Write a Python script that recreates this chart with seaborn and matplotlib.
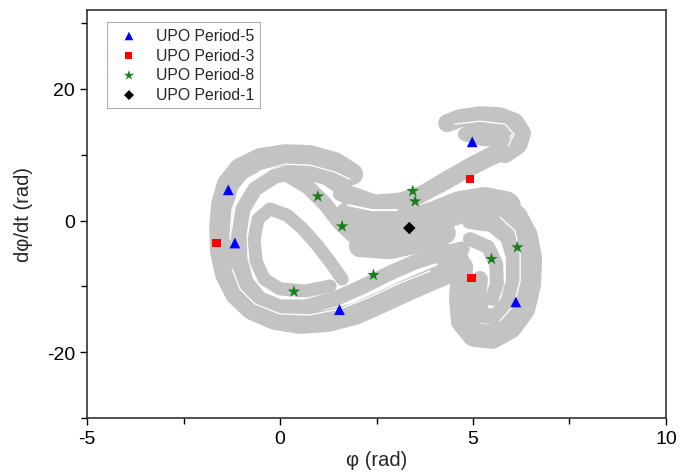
import numpy as np
import pandas as pd
import seaborn as sns
import matplotlib
matplotlib.use("Agg")
import matplotlib.pyplot as plt
from matplotlib.ticker import MultipleLocator

# ---------------- data ----------------
# Attractor strands (centre lines of the gray bands), in data units
band1_x = [1.87, 1.42, 0.78, 0.13, -0.52, -1.04, -1.35, -1.50, -1.55, -1.53, -1.40, -1.14, -0.73, -0.13, 0.52, 1.24, 1.94, 2.64, 3.37, 4.09, 4.72]
band1_y = [7.06, 8.73, 9.79, 9.94, 9.33, 7.81, 5.54, 2.50, -0.99, -4.63, -8.12, -11.15, -13.43, -14.95, -15.55, -15.25, -14.19, -12.37, -10.39, -8.57, -7.06]

band3_x = [4.72, 4.15, 3.50, 2.85, 2.12, 1.42, 0.65, 0.00, -0.52, -0.88, -1.04, -1.06, -0.96, -0.65, -0.13, 0.52, 1.17, 1.81, 2.46, 3.11, 3.68, 4.33, 4.97, 5.57, 6.01]
band3_y = [-4.32, -5.08, -6.30, -7.97, -10.09, -11.91, -13.13, -13.13, -11.91, -9.33, -5.84, -2.05, 1.75, 4.78, 6.75, 7.51, 6.60, 4.17, 2.81, 3.11, 4.17, 6.45, 8.57, 10.39, 11.46]

upper_x = [1.55, 2.20, 2.85, 3.50, 4.15, 4.79, 5.44, 5.96]
upper_y = [4.02, 2.50, 2.20, 3.26, 5.24, 7.36, 9.33, 10.55]

hook_x = [5.83, 6.17, 6.27, 6.09, 5.70, 5.18, 4.66, 4.33]
hook_y = [10.09, 11.46, 13.28, 14.95, 15.86, 16.01, 15.55, 14.80]
hook2_x = [4.79, 5.26, 5.70, 5.83, 5.44, 4.92]
hook2_y = [13.13, 12.37, 12.37, 13.58, 14.19, 14.04]

band2_x = [0.21, 0.73, 1.17, 1.55, 1.94, 2.54, 3.24]
band2_y = [6.90, 5.08, 2.50, -0.38, -2.50, -3.72, -3.72]

band5_x = [1.61, 1.30, 0.96, 0.57, 0.18, -0.26, -0.57, -0.67, -0.62, -0.41, 0.00, 0.65, 1.30]
band5_y = [-8.88, -6.30, -3.72, -1.14, 0.83, 1.75, 0.23, -2.81, -6.15, -8.88, -10.39, -10.70, -9.94]

core1_x = [1.81, 2.54, 3.32, 4.02, 4.66, 5.31, 5.83]
core1_y = [0.53, -0.08, -0.68, 0.53, 2.05, 2.66, 2.05]
core2_x = [2.07, 2.85, 3.63, 4.27]
core2_y = [-3.90, -4.20, -3.20, -1.90]

band7_x = [5.70, 6.11, 6.37, 6.48, 6.45, 6.30, 5.96, 5.49, 5.03, 4.74, 4.69, 4.72, 4.61, 4.27]
band7_y = [2.20, 0.53, -2.35, -5.84, -9.79, -13.43, -16.16, -17.68, -17.37, -15.25, -11.91, -8.88, -6.30, -5.24]

band8_x = [4.92, 5.49, 5.91, 6.06, 6.06, 5.91, 5.57, 5.23, 5.13, 5.18]
band8_y = [-0.08, -0.53, -2.50, -5.54, -9.18, -12.52, -14.65, -14.34, -11.91, -8.88]

band9_x = [4.92, 5.39, 5.60, 5.62, 5.49]
band9_y = [-2.81, -4.02, -6.60, -9.64, -11.91]

# thin white gaps between the sheets of the attractor
gap1_x = [-1.30, -1.24, -0.98, -0.52, 0.13, 0.78, 1.42, 1.81]
gap1_y = [-2.81, 1.75, 5.08, 7.51, 8.57, 8.42, 7.36, 6.30]
gap2_x = [-1.24, -1.04, -0.65, 0.00, 0.78, 1.55, 2.33, 3.11, 3.89]
gap2_y = [-7.36, -10.39, -12.67, -14.19, -14.34, -13.43, -11.61, -9.48, -7.66]
gap3_x = [4.53, 5.18, 5.83, 6.06, 5.91]
gap3_y = [14.65, 15.10, 14.65, 13.13, 11.31]
gap4_x = [5.70, 6.09, 6.22, 6.22, 6.06, 5.70]
gap4_y = [0.53, -1.59, -5.08, -9.18, -12.82, -15.25]
gap5_x = [1.76, 2.38, 3.03]
gap5_y = [2.35, 1.59, 1.59]

# UPO points
p5_x = [-1.34, -1.17, 1.54, 4.98, 6.11]
p5_y = [4.67, -3.41, -13.54, 11.96, -12.37]
p3_x = [-1.64, 4.92, 4.96]
p3_y = [-3.41, 6.30, -8.73]
p8_x = [0.98, 1.61, 0.36, 2.42, 3.44, 3.50, 5.48, 6.15]
p8_y = [3.67, -0.88, -10.80, -8.27, 4.48, 2.91, -5.84, -4.07]
p1_x = [3.35]
p1_y = [-1.14]

labels = ["UPO Period-5", "UPO Period-3", "UPO Period-8", "UPO Period-1"]

# ---------------- plotting ----------------
sns.set_theme(style="white")
plt.rcParams["font.family"] = ["Liberation Sans", "DejaVu Sans"]
plt.rcParams["axes.unicode_minus"] = False

fig = plt.figure(figsize=(6.88, 4.77), dpi=100)
ax = fig.add_axes([0.1265, 0.1216, 0.8415, 0.8554])

gray = "#c3c3c3"
PX = 0.72  # points per pixel
strands = [
    (band1_x, band1_y, 22, gray),
    (band3_x, band3_y, 15, gray),
    (upper_x, upper_y, 14, gray),
    (hook_x, hook_y, 18, gray),
    (hook2_x, hook2_y, 14, gray),
    (band2_x, band2_y, 15, gray),
    (band5_x, band5_y, 13, gray),
    (core1_x, core1_y, 32, gray),
    (core2_x, core2_y, 22, gray),
    (band7_x, band7_y, 24, gray),
    (band8_x, band8_y, 16, gray),
    (band9_x, band9_y, 14, gray),
    (gap1_x, gap1_y, 1.3, "white"),
    (gap2_x, gap2_y, 1.3, "white"),
    (gap3_x, gap3_y, 1.3, "white"),
    (gap4_x, gap4_y, 1.3, "white"),
    (gap5_x, gap5_y, 2.0, "white"),
]
for sx, sy, w, c in strands:
    df = pd.DataFrame({"x": sx, "y": sy})
    sns.lineplot(data=df, x="x", y="y", sort=False, estimator=None, ax=ax,
                 color=c, linewidth=w * PX, solid_capstyle="round",
                 solid_joinstyle="round", legend=False, zorder=1)

def pts(x, y, lab):
    return pd.DataFrame({"x": x, "y": y, "kind": lab})

upo = pd.concat([pts(p5_x, p5_y, labels[0]), pts(p3_x, p3_y, labels[1]),
                 pts(p8_x, p8_y, labels[2]), pts(p1_x, p1_y, labels[3])])
palette = {labels[0]: "#0000ff", labels[1]: "#ff0000", labels[2]: "#1a7f1a", labels[3]: "#000000"}
markers = {labels[0]: "^", labels[1]: "s", labels[2]: "*", labels[3]: "D"}
sizes = {labels[0]: 60, labels[1]: 40, labels[2]: 90, labels[3]: 40}
for lab in labels:
    sub = upo[upo["kind"] == lab]
    sns.scatterplot(data=sub, x="x", y="y", ax=ax, color=palette[lab],
                    marker=markers[lab], s=sizes[lab], edgecolor="none",
                    label=lab, zorder=3)

ax.set_xlim(-5, 10)
ax.set_ylim(-30, 32)
ax.xaxis.set_major_locator(MultipleLocator(5))
ax.xaxis.set_minor_locator(MultipleLocator(2.5))
ax.yaxis.set_major_locator(MultipleLocator(20))
ax.yaxis.set_minor_locator(MultipleLocator(10))
ax.tick_params(which="both", direction="out", bottom=True, left=True, top=False, right=False,
               colors="black", labelsize=14)
ax.tick_params(which="major", length=5, width=1)
ax.tick_params(which="minor", length=4, width=1)
for sp in ax.spines.values():
    sp.set_color("#333333")
    sp.set_linewidth(1.2)
ax.set_xlabel("\u03c6 (rad)", fontsize=14.5, labelpad=2)
ax.set_ylabel("d\u03c6/dt (rad)", fontsize=14.5, labelpad=10)

leg = ax.legend(loc="upper left", bbox_to_anchor=(0.0345, 0.971), borderaxespad=0,
                fontsize=11.3, frameon=True, fancybox=False, edgecolor="#999999",
                handletextpad=0.7, borderpad=0.4, labelspacing=0.3,
                markerscale=0.8)
leg.get_frame().set_linewidth(0.8)

fig.savefig("out.png", dpi=100)
